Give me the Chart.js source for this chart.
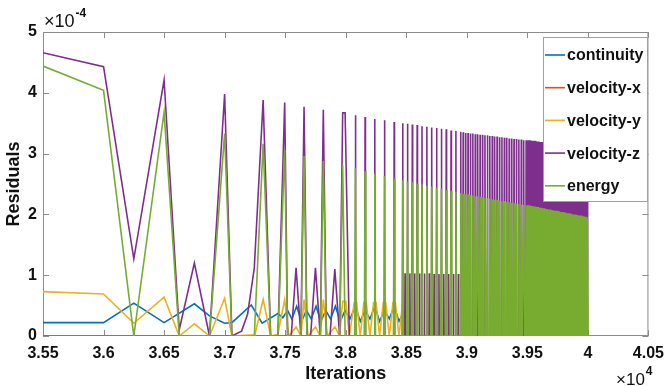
<!DOCTYPE html>
<html>
<head>
<meta charset="utf-8">
<script src="https://cdn.jsdelivr.net/npm/chart.js@4.4.1/dist/chart.umd.min.js"></script>
<style>
  html, body { margin: 0; padding: 0; background: #fff; }
</style>
</head>
<body>
<canvas id="residuals" width="672" height="386"></canvas>
<script>
// series names + matlab default colours
const seriesNames = ["continuity", "velocity-x", "velocity-y", "velocity-z", "energy"];
const seriesColors = ["#0072BD", "#D95319", "#EDB120", "#7E2F8E", "#77AC30"];

// axis ticks (iterations, residual x1e-4)
const xTickValues = [35500, 36000, 36500, 37000, 37500, 38000, 38500, 39000, 39500, 40000, 40500];
const yTickValues = [0, 1, 2, 3, 4, 5];

// continuity
const contIters = [35500, 36000, 36250, 36500, 36750, 36875, 37000, 37060, 37220, 37310, 37440,
  37480, 37520, 37555, 37595, 37635, 37675, 37715, 37755, 37795, 37835, 37875, 37915, 37955,
  37995, 38035, 38080, 38120, 38160, 38200, 38240, 38280, 38320, 38360, 38400, 38440, 38480];
const continuity = [0.22, 0.22, 0.54, 0.22, 0.53, 0.33, 0.21, 0.22, 0.51, 0.21, 0.37,
  0.30, 0.42, 0.28, 0.49, 0.24, 0.42, 0.28, 0.49, 0.24, 0.42, 0.28, 0.49, 0.24,
  0.42, 0.28, 0.49, 0.24, 0.42, 0.28, 0.49, 0.24, 0.42, 0.28, 0.49, 0.24, 0.40];

// velocity-x
const velXIters = [35500, 40000];
const velX = [0, 0];

// velocity-y
const velYIters = [35500, 36000, 36250, 36500, 36625, 36750, 36875, 37000, 37060, 37250, 37318,
  37380, 37440, 37496, 37530, 37590, 37630, 37656, 37690, 37750, 37790, 37815, 37850, 37910,
  37950, 37975, 38000, 38030, 38070, 38090, 38120, 38150, 38170, 38200, 38230, 38250, 38280,
  38310, 38330, 38360, 38390, 38410, 38440, 38470, 38480];
const velY = [0.73, 0.69, 0.21, 0.64, 0, 0.20, 0, 0.62, 0, 0.02, 0.60,
  0, 0.03, 0.60, 0, 0.15, 0, 0.60, 0, 0.15, 0, 0.60, 0, 0.15,
  0, 0.57, 0.57, 0, 0.55, 0.55, 0, 0.55, 0.55, 0, 0.55, 0.55, 0,
  0.55, 0.55, 0, 0.55, 0.55, 0, 0.55, 0];

// velocity-z and energy, first part (wide peaks)
const zIters = [35500, 36000, 36250, 36500, 36625, 36750, 36875, 37000, 37060, 37140, 37190,
  37245, 37318, 37380, 37440, 37496, 37520, 37550, 37590, 37630, 37656, 37680, 37710, 37750,
  37790, 37815, 37840, 37870, 37910, 37950, 37975, 37995, 38030];
const velZ = [4.66, 4.43, 1.27, 4.21, 0.10, 1.20, 0, 3.98, 0, 0.08, 0.36,
  1.12, 3.88, 0, 0, 3.84, 0, 0, 1.12, 0, 3.77, 0, 0, 1.12,
  0, 3.72, 0, 0, 1.10, 0, 3.67, 3.67, 0];
const energy = [4.44, 4.04, 0, 3.68, 0, 0, 0, 3.33, 0, 0, 0,
  0, 3.16, 0, 0, 3.06, 0, 0, 0, 0, 2.96, 0, 0, 0,
  0, 2.88, 0, 0, 0, 0, 2.81, 0, 0];

// later part: narrow spikes back to zero
const spikeIters = [
  38080, 38160, 38240, 38320, 38400,
  38470, 38490, 38510, 38530, 38550, 38570, 38590, 38610, 38630, 38650, 38670, 38690, 38710,
  38730, 38750, 38770, 38790, 38810, 38830, 38850, 38870, 38890, 38910, 38930, 38950,
  38970, 38990, 39010, 39030, 39050, 39070, 39090, 39110, 39130, 39150, 39170, 39190, 39210,
  39230, 39250, 39270, 39290, 39310, 39330, 39350, 39370, 39390, 39410, 39430, 39450, 39470, 39490,
  39505, 39515, 39525, 39535, 39545, 39555, 39565, 39575, 39585, 39595,
  39605, 39615, 39625, 39635, 39645, 39655, 39665, 39675, 39685, 39695,
  39705, 39715, 39725, 39735, 39745, 39755, 39765, 39775, 39785, 39795,
  39805, 39815, 39825, 39835, 39845, 39855, 39865, 39875, 39885, 39895,
  39905, 39915, 39925, 39935, 39945, 39955, 39965, 39975, 39985, 39995];
const velZSpikes = [
  3.63, 3.60, 3.57, 3.55, 3.52,
  3.50, 1.03, 3.49, 1.03, 3.48, 1.03, 3.47, 1.03, 3.45, 1.03, 3.44, 1.03, 3.43,
  1.02, 3.42, 1.02, 3.41, 1.02, 3.40, 1.02, 3.38, 1.02, 3.37, 1.02, 3.36,
  3.35, 3.34, 3.34, 3.33, 3.33, 3.32, 3.32, 3.31, 3.31, 3.30, 3.30, 3.29, 3.29,
  3.28, 3.28, 3.27, 3.27, 3.26, 3.26, 3.25, 3.25, 3.24, 3.24, 3.23, 3.23, 3.22, 3.22,
  3.22, 3.22, 3.22, 3.21, 3.21, 3.21, 3.21, 3.20, 3.20, 3.20,
  3.19, 3.19, 3.19, 3.19, 3.18, 3.18, 3.18, 3.17, 3.17, 3.17,
  3.17, 3.16, 3.16, 3.16, 3.15, 3.15, 3.15, 3.15, 3.14, 3.14,
  3.14, 3.13, 3.13, 3.13, 3.13, 3.12, 3.12, 3.12, 3.11, 3.11,
  3.11, 3.11, 3.10, 3.10, 3.10, 3.09, 3.09, 3.09, 3.08, 3.08];
const energySpikes = [
  2.76, 2.71, 2.67, 2.63, 2.59,
  2.56, 0, 2.54, 0, 2.53, 0, 2.51, 0, 2.49, 0, 2.47, 0, 2.46,
  0, 2.44, 0, 2.42, 0, 2.40, 0, 2.39, 0, 2.37, 0, 2.35,
  2.34, 2.33, 2.33, 2.32, 2.31, 2.30, 2.30, 2.29, 2.28, 2.27, 2.27, 2.26, 2.25,
  2.24, 2.24, 2.23, 2.22, 2.22, 2.21, 2.20, 2.19, 2.19, 2.18, 2.17, 2.16, 2.16, 2.15,
  2.15, 2.15, 2.14, 2.14, 2.14, 2.13, 2.13, 2.12, 2.12, 2.12,
  2.11, 2.11, 2.10, 2.10, 2.10, 2.09, 2.09, 2.08, 2.08, 2.08,
  2.07, 2.07, 2.06, 2.06, 2.06, 2.05, 2.05, 2.04, 2.04, 2.04,
  2.03, 2.03, 2.02, 2.02, 2.02, 2.01, 2.01, 2.00, 2.00, 2.00,
  1.99, 1.99, 1.98, 1.98, 1.98, 1.97, 1.97, 1.96, 1.96, 1.95];

function toPoints(iters, vals) {
  return iters.map((it, i) => ({ x: it, y: vals[i] }));
}

// each spike rises from zero and falls straight back
function withSpikes(iters, vals, peaks, half) {
  const pts = toPoints(iters, vals);
  spikeIters.forEach((it, i) => {
    pts.push({ x: it - half, y: 0 }, { x: it, y: peaks[i] }, { x: it + half, y: 0 });
  });
  return pts;
}

const seriesData = [
  toPoints(contIters, continuity),
  toPoints(velXIters, velX),
  toPoints(velYIters, velY),
  withSpikes(zIters, velZ, velZSpikes, 3),
  withSpikes(zIters, energy, energySpikes, 6)
];

const font = "'Liberation Sans', Arial, sans-serif";

const frame = {
  id: 'frame',
  beforeDatasetsDraw(chart) {
    const { ctx, chartArea: a, scales: { x, y } } = chart;
    ctx.save();
    ctx.strokeStyle = '#8c8c8c';
    ctx.lineWidth = 1;
    ctx.strokeRect(a.left + 0.5, a.top + 0.5, a.right - a.left - 1, a.bottom - a.top - 1);
    ctx.beginPath();
    x.ticks.forEach(t => {
      const px = Math.round(x.getPixelForValue(t.value)) + 0.5;
      ctx.moveTo(px, a.bottom); ctx.lineTo(px, a.bottom - 6);
      ctx.moveTo(px, a.top); ctx.lineTo(px, a.top + 6);
    });
    y.ticks.forEach(t => {
      const py = Math.round(y.getPixelForValue(t.value)) + 0.5;
      ctx.moveTo(a.left, py); ctx.lineTo(a.left + 6, py);
      ctx.moveTo(a.right, py); ctx.lineTo(a.right - 6, py);
    });
    ctx.stroke();
    ctx.restore();
  },
  afterDraw(chart) {
    const { ctx, chartArea: a } = chart;
    ctx.save();
    ctx.fillStyle = '#111';

    // axis titles
    ctx.font = 'bold 18px ' + font;
    ctx.textAlign = 'center';
    ctx.textBaseline = 'middle';
    ctx.fillText('Iterations', (a.left + a.right) / 2, 374);
    ctx.save();
    ctx.translate(14, (a.top + a.bottom) / 2);
    ctx.rotate(-Math.PI / 2);
    ctx.fillText('Residuals', 0, 0);
    ctx.restore();

    // exponent labels
    ctx.textAlign = 'left';
    ctx.textBaseline = 'alphabetic';
    ctx.font = '18px ' + font;
    ctx.fillText('×10', 44, 27);
    let w = ctx.measureText('×10').width;
    ctx.font = 'bold 12px ' + font;
    ctx.fillText('-4', 44 + w + 1, 17);
    ctx.font = '17px ' + font;
    ctx.fillText('×10', 616, 385);
    w = ctx.measureText('×10').width;
    ctx.font = 'bold 12px ' + font;
    ctx.fillText('4', 616 + w + 1, 375);

    // legend box
    const lx = 543, ly = 37, lw = 105, lh = 165;
    ctx.fillStyle = '#fff';
    ctx.fillRect(lx, ly, lw, lh);
    ctx.strokeStyle = '#a0a0a0';
    ctx.lineWidth = 1;
    ctx.strokeRect(lx + 0.5, ly + 0.5, lw - 1, lh - 1);
    ctx.font = 'bold 16px ' + font;
    ctx.textBaseline = 'middle';
    chart.data.datasets.forEach((ds, i) => {
      const cy = ly + 18 + i * 32.7;
      ctx.strokeStyle = ds.borderColor;
      ctx.lineWidth = 1.6;
      ctx.beginPath();
      ctx.moveTo(lx + 2, cy);
      ctx.lineTo(lx + 22, cy);
      ctx.stroke();
      ctx.fillStyle = '#111';
      ctx.fillText(ds.label, lx + 24, cy + 1);
    });
    ctx.restore();
  }
};

new Chart(document.getElementById('residuals'), {
  type: 'line',
  data: {
    datasets: seriesNames.map((name, i) => ({
      label: name,
      data: seriesData[i],
      borderColor: seriesColors[i],
      backgroundColor: seriesColors[i],
      borderWidth: 1.6,
      pointRadius: 0,
      tension: 0,
      fill: false,
      order: seriesNames.length - i
    }))
  },
  options: {
    responsive: false,
    devicePixelRatio: 1,
    animation: false,
    layout: { padding: { top: 32, right: 19, left: 0, bottom: 0 } },
    plugins: {
      legend: { display: false },
      tooltip: { enabled: false }
    },
    scales: {
      x: {
        type: 'linear',
        min: 35500,
        max: 40500,
        afterBuildTicks: s => { s.ticks = xTickValues.map(v => ({ value: v })); },
        afterFit: s => { s.height = 50; },
        grid: { display: false, drawTicks: false },
        border: { display: false },
        ticks: {
          padding: 8,
          maxRotation: 0,
          autoSkip: false,
          color: '#111',
          font: { family: font, size: 16, weight: 'bold' },
          callback: v => String(+(v / 1e4).toFixed(2))
        }
      },
      y: {
        type: 'linear',
        min: 0,
        max: 5,
        afterBuildTicks: s => { s.ticks = yTickValues.map(v => ({ value: v })); },
        afterFit: s => { s.width = 43; },
        grid: { display: false, drawTicks: false },
        border: { display: false },
        ticks: {
          padding: 6,
          color: '#111',
          font: { family: font, size: 16, weight: 'bold' }
        }
      }
    }
  },
  plugins: [frame]
});
</script>
</body>
</html>
